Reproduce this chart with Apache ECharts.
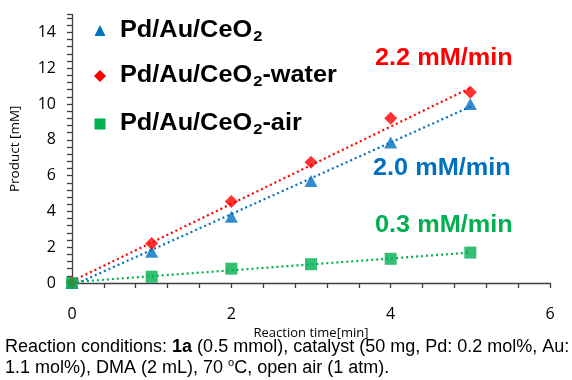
<!DOCTYPE html>
<html>
<head>
<meta charset="utf-8">
<script src="https://cdn.jsdelivr.net/npm/echarts@6/dist/echarts.min.js"></script>
<style>html,body{margin:0;padding:0;background:#fff}#c{width:572px;height:380px}</style>
</head>
<body>
<div id="c"></div>
<script>
// ---- data ----
const time = [0, 1, 2, 3, 4, 5];
const blueVals = [0, 1.75, 3.7, 5.7, 7.85, 10.0];
const redVals = [0.05, 2.2, 4.55, 6.75, 9.2, 10.65];
const greenVals = [0, 0.35, 0.8, 1.05, 1.35, 1.7];
// trend line end points
const trendX = [0, 5];
const trendBlue = [-0.15, 9.85];
const trendRed = [0.1, 10.9];
const trendGreen = [0.05, 1.7];
const seriesNames = ['Pd/Au/CeO2', 'Pd/Au/CeO2-water', 'Pd/Au/CeO2-air'];
const rates = ['2.0 mM/min', '2.2 mM/min', '0.3 mM/min'];
const xTickLabels = [0, 2, 4, 6];
const yTickLabels = [0, 2, 4, 6, 8, 10, 12, 14];

const BLUE = '#0070C0', RED = '#FF0000', GREEN = '#00B050';
const pair = (xs, ys) => xs.map((x, i) => [x, ys[i]]);
const isLabel = (v, list) => list.some(t => Math.abs(t - v) < 1e-6);

const chart = echarts.init(document.getElementById('c'), null, {renderer: 'canvas'});

const legendFont = {fontFamily: 'Liberation Sans, Arial', fontWeight: 'bold', fontSize: 23};
function legendRich() {
  return {
    m: Object.assign({}, legendFont, {fill: '#000', lineHeight: 28, verticalAlign: 'middle'}),
    s: Object.assign({}, legendFont, {fontSize: 15, fill: '#000', lineHeight: 28, verticalAlign: 'bottom', padding: [0, 0, 0, 1]})
  };
}
function legendText(y, suffix) {
  return {
    type: 'text', left: 120, top: y - 12, scaleX: 1.1,
    style: {
      rich: legendRich(),
      text: '{m|Pd/Au/CeO}{s|2}' + (suffix ? '{m|' + suffix + '}' : ''),
      fill: '#000'
    }
  };
}

const rateStyle = (color) => ({fontFamily: 'Liberation Sans, Arial', fontWeight: 'bold', fontSize: 23, fill: color});

const option = {
  animation: false,
  grid: {left: 72, right: 22, top: 14.5, bottom: 97},
  xAxis: {
    type: 'value', min: 0, max: 6, interval: 0.4,
    name: 'Reaction time[min]', nameLocation: 'middle', nameGap: 34,
    nameTextStyle: {fontFamily: 'Open Sans', fontSize: 13, color: '#000'},
    axisLine: {show: true, onZero: false, lineStyle: {color: '#404040', width: 1.3}},
    axisTick: {show: true, inside: false, length: 5, lineStyle: {color: '#404040', width: 1.3}},
    axisLabel: {
      margin: 23, fontFamily: 'Open Sans', fontSize: 16, color: '#000',
      formatter: v => isLabel(v, xTickLabels) ? String(Math.round(v)) : ''
    },
    splitLine: {show: false}
  },
  yAxis: {
    type: 'value', min: 0, max: 15, interval: 0.4,
    name: 'Product [mM]', nameLocation: 'middle', nameGap: 50,
    nameTextStyle: {fontFamily: 'Open Sans', fontSize: 13.5, color: '#000'},
    axisLine: {show: true, lineStyle: {color: '#404040', width: 1.3}},
    axisTick: {show: true, inside: false, length: 5, lineStyle: {color: '#404040', width: 1.3}},
    axisLabel: {
      margin: 16, fontFamily: 'Open Sans', fontSize: 16, color: '#000',
      formatter: v => isLabel(v, yTickLabels) ? String(Math.round(v)) : ''
    },
    splitLine: {show: false}
  },
  series: [
    {type: 'line', data: pair(trendX, trendBlue), symbol: 'none', lineStyle: {color: BLUE, width: 2.2, type: [2, 3]}, z: 2},
    {type: 'line', data: pair(trendX, trendRed), symbol: 'none', lineStyle: {color: RED, width: 2.2, type: [2, 3]}, z: 2},
    {type: 'line', data: pair(trendX, trendGreen), symbol: 'none', lineStyle: {color: GREEN, width: 2.2, type: [2, 3]}, z: 2},
    {name: seriesNames[0], type: 'scatter', data: pair(time, blueVals), symbol: 'triangle', symbolSize: [13, 12], itemStyle: {color: BLUE}, z: 3},
    {name: seriesNames[1], type: 'scatter', data: pair(time, redVals), symbol: 'diamond', symbolSize: [13, 13], itemStyle: {color: RED}, z: 4},
    {name: seriesNames[2], type: 'scatter', data: pair(time, greenVals), symbol: 'rect', symbolSize: [12, 12], itemStyle: {color: GREEN}, z: 5}
  ],
  graphic: [
    // legend
    {type: 'polygon', shape: {points: [[100, 25], [94.5, 36], [105.5, 36]]}, style: {fill: BLUE}},
    legendText(31, ''),
    {type: 'polygon', shape: {points: [[100, 70], [106, 76], [100, 82], [94, 76]]}, style: {fill: RED}},
    legendText(76, '-water'),
    {type: 'rect', shape: {x: 94.5, y: 118.5, width: 11, height: 11}, style: {fill: GREEN}},
    legendText(124, '-air'),
    // rate annotations
    {type: 'text', left: 375, top: 47, scaleX: 1.1, style: Object.assign({text: rates[1]}, rateStyle(RED))},
    {type: 'text', left: 373, top: 157, scaleX: 1.1, style: Object.assign({text: rates[0]}, rateStyle(BLUE))},
    {type: 'text', left: 375, top: 214, scaleX: 1.1, style: Object.assign({text: rates[2]}, rateStyle(GREEN))},
    // caption
    {
      type: 'text', left: 5, top: 338,
      style: {
        text: '{n|Reaction conditions: }{b|1a}{n| (0.5 mmol), catalyst (50 mg, Pd: 0.2 mol%, Au:}\n{n|1.1 mol%), DMA (2 mL), 70 }{p|o}{n|C, open air (1 atm).}',
        rich: {
          n: {fontFamily: 'Liberation Sans, Arial', fontSize: 18, fill: '#000', lineHeight: 21, verticalAlign: 'middle'},
          b: {fontFamily: 'Liberation Sans, Arial', fontSize: 18, fontWeight: 'bold', fill: '#000', lineHeight: 21, verticalAlign: 'middle'},
          p: {fontFamily: 'Liberation Sans, Arial', fontSize: 11, fill: '#000', lineHeight: 21, verticalAlign: 'top'}
        }
      }
    }
  ]
};
chart.setOption(option);
</script>
</body>
</html>
